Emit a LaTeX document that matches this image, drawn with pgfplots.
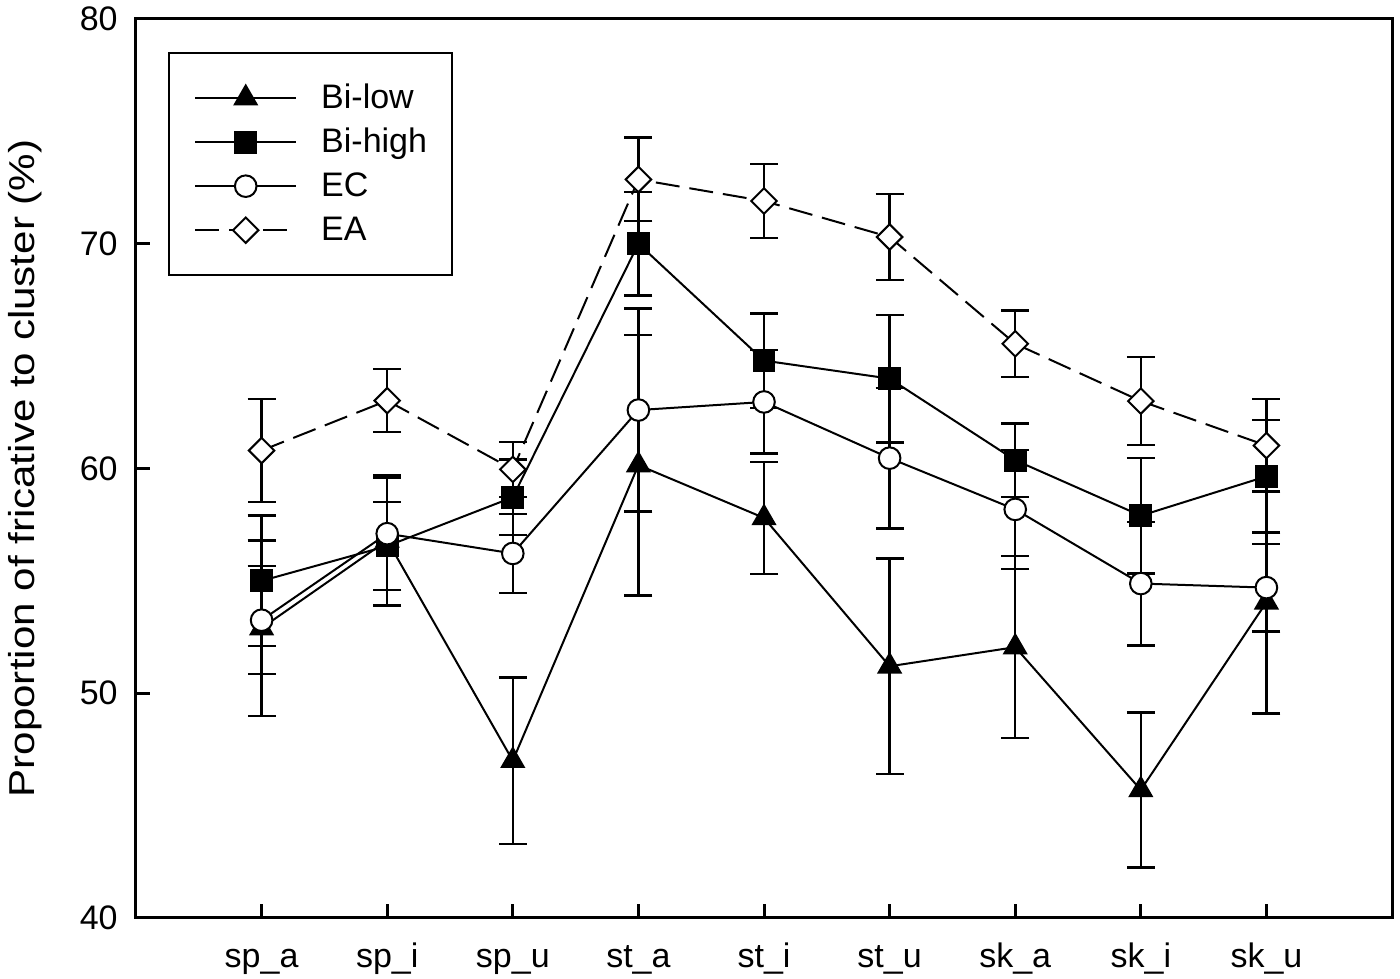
\documentclass[border=0pt]{standalone}
\usepackage{fontspec}
\setmainfont{Liberation Sans}
\newfontfamily\labelfont[FakeStretch=1.17]{Liberation Sans}
\usepackage{pgfplots}
\pgfplotsset{compat=1.18}
\usepackage{pgfplotstable}

\pgfplotstableread{
x y e
0 52.90 3.90
1 56.80 2.90
2 47.00 3.70
3 60.15 5.80
4 57.80 2.50
5 51.20 4.80
6 52.05 4.05
7 45.70 3.45
8 54.05 4.95
}\bilowdata

\pgfplotstableread{
x y e
0 55.00 2.90
1 56.55 1.95
2 58.72 1.68
3 70.00 2.30
4 64.80 2.10
5 64.00 2.84
6 60.37 1.64
7 57.90 2.58
8 59.65 2.50
}\bihighdata

\pgfplotstableread{
x y e
0 53.25 2.40
1 57.10 2.50
2 56.22 1.75
3 62.60 4.52
4 62.96 2.30
5 60.46 3.13
6 58.18 2.64
7 54.88 2.75
8 54.70 1.95
}\ecdata

\pgfplotstableread{
x y e
0 60.80 2.30
1 63.02 1.40
2 59.96 1.23
3 72.86 1.86
4 71.90 1.65
5 70.30 1.92
6 65.55 1.48
7 63.00 1.96
8 61.02 2.06
}\eadata

\pgfplotsset{
  sBiLow/.style={black, line width=1pt, mark=triangle*, mark size=6.3pt, mark options={solid, fill=black, line width=1pt}},
  sBiHigh/.style={black, line width=1pt, mark=square*, mark size=5.2pt, mark options={solid, fill=black, line width=1pt}},
  sEC/.style={black, line width=1pt, mark=*, mark size=5.4pt, mark options={solid, fill=white, line width=1pt}},
  sEA/.style={black, line width=1pt, dash pattern=on 12pt off 5pt, mark=square*, mark size=4.5pt, mark options={solid, fill=white, rotate=45, line width=1pt}},
  errs/.style={error bars/.cd, y dir=both, y explicit,
    error bar style={line width=1.2pt, solid, black},
    error mark options={rotate=90, line width=1.2pt, mark size=7pt, black, solid}},
}

\begin{document}
\begin{tikzpicture}
\begin{axis}[
  at={(0pt,0pt)}, anchor=south west,
  scale only axis, width=628pt, height=449.5pt,
  xmin=-1, xmax=9, ymin=40, ymax=80,
  xtick={0,...,8},
  xticklabels={sp\_a,sp\_i,sp\_u,st\_a,st\_i,st\_u,sk\_a,sk\_i,sk\_u},
  ytick={40,50,60,70,80},
  tick pos=left, tick align=inside, major tick length=7pt,
  axis line style={line width=1.5pt},
  tick style={line width=1.5pt, black},
  /pgf/number format/assume math mode=true,
  tick label style={font=\fontsize{17}{20}\selectfont},
  xticklabel style={anchor=base, inner sep=0pt, yshift=-24.5pt},
  yticklabel style={anchor=east, inner sep=0pt, xshift=-9pt},
  ylabel={Proportion of fricative to cluster (\%)},
  ylabel style={font=\labelfont\fontsize{18}{21}\selectfont, at={(axis description cs:-0.0748,0.5)}, anchor=south, inner sep=0pt},
  legend style={at={(axis description cs:0.0255,0.9633)}, anchor=north west,
    draw=black, line width=1.2pt, fill=white,
    inner xsep=12.5pt, inner ysep=15.25pt, row sep=7.5pt, column sep=12pt,
    font=\fontsize{17}{20}\selectfont,
    nodes={inner sep=0pt, text height=12.5pt, text depth=2pt}},
  legend cell align=left,
  legend image code/.code={\draw[mark repeat=2, mark phase=2, #1] plot coordinates {(0pt,0pt) (25.25pt,0pt) (50.5pt,0pt)};},
]
\addplot[sEA, forget plot, errs] table[x=x, y=y, y error=e]{\eadata};
\addplot[sBiLow, forget plot, errs] table[x=x, y=y, y error=e]{\bilowdata};
\addplot[sBiHigh, forget plot, errs] table[x=x, y=y, y error=e]{\bihighdata};
\addplot[sEC, forget plot, errs] table[x=x, y=y, y error=e]{\ecdata};

\addlegendimage{sBiLow}
\addlegendentry{Bi-low}
\addlegendimage{sBiHigh}
\addlegendentry{Bi-high}
\addlegendimage{sEC}
\addlegendentry{EC}
\addlegendimage{sEA}
\addlegendentry{EA}
\end{axis}
\pgfresetboundingbox
\path[use as bounding box] (-68pt,-30pt) rectangle (632pt,459pt);
\end{tikzpicture}
\end{document}
